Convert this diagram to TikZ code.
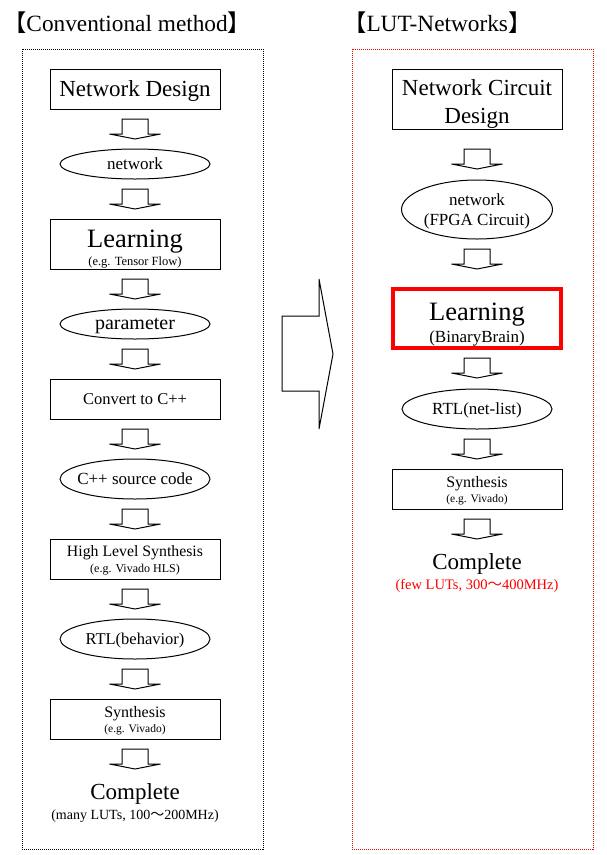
\documentclass[tikz,border=0pt]{standalone}
\usepackage{fontspec}
\setmainfont{Liberation Serif}
\newfontfamily\cjk{Noto Sans CJK JP}
\usepackage{tikz}
\usetikzlibrary{positioning}
\usetikzlibrary{shapes.geometric}

\tikzset{
  box/.style={draw, line width=1pt, minimum width=170pt, minimum height=40pt,
    inner sep=0pt, outer sep=0pt, text depth=0pt, align=center},
  oval/.style={draw, ellipse, line width=1pt, minimum width=150pt, minimum height=30pt,
    inner sep=0pt, outer sep=0pt, text depth=0pt, align=center},
  panel/.style={draw, line width=1pt, dash pattern=on 1pt off 1pt,
    minimum width=241pt, minimum height=800pt, inner sep=0pt},
  plain/.style={inner sep=0pt, outer sep=0pt, text depth=0pt, align=center},
  flow/.pic={\draw[line width=1pt, fill=white] (-13,0) -- (13,0) -- (13,15) -- (25.5,15)
    -- (0,20) -- (-25.5,15) -- (-13,15) -- cycle;}
}

\begin{document}
\begin{tikzpicture}[x=1pt, y=-1pt, node distance=40pt]
  \useasboundingbox (0,0) rectangle (607,855);

  \node [inner sep=0pt, anchor=base west, font=\fontsize{23.3}{28}\selectfont] (lhead) at (3,31)
    {{\cjk 【}Conventional method{\cjk 】}};
  \node [inner sep=0pt, anchor=base west, font=\fontsize{23.3}{28}\selectfont] (rhead) at (343,31)
    {{\cjk 【}LUT-Networks{\cjk 】}};

  \node [panel] (lpanel) at (142.5,449) {};
  \node [panel, draw=red] (rpanel) at (472.5,449) {};

  \node [box, font=\fontsize{23}{28}\selectfont] (design) at (135,89) {Network Design};
  \node [oval, below=of design, font=\fontsize{17}{20}\selectfont] (net) {network};
  \node [box, below=of net, minimum height=50pt, font=\fontsize{26.5}{18}\selectfont] (learn)
    {\rule{0pt}{24pt}Learning\\{\fontsize{12.5}{13}\selectfont (e.g. Tensor Flow)}};
  \node [oval, below=of learn, font=\fontsize{20}{22}\selectfont] (param) {parameter};
  \node [box, below=of param, font=\fontsize{16.5}{20}\selectfont] (conv) {Convert to C++};
  \node [oval, below=of conv, minimum height=40pt, inner xsep=-5pt,
    font=\fontsize{17}{20}\selectfont] (src) {C++ source code};
  \node [box, below=of src, font=\fontsize{15.8}{16}\selectfont] (hls)
    {High Level Synthesis\\{\fontsize{12}{13}\selectfont (e.g. Vivado HLS)}};
  \node [oval, below=of hls, minimum height=40pt, font=\fontsize{16.5}{20}\selectfont] (rtl)
    {RTL(behavior)};
  \node [box, below=of rtl, font=\fontsize{16}{15}\selectfont] (synth)
    {Synthesis\\{\fontsize{11.5}{12}\selectfont (e.g. Vivado)}};
  \node [plain, below=45pt of synth, font=\fontsize{23}{20}\selectfont] (done)
    {Complete\\{\fontsize{14}{15}\selectfont (many LUTs, 100{\cjk ～}200MHz)}};

  \node [box, minimum height=60pt, font=\fontsize{23}{28}\selectfont] (rdesign) at (477,99)
    {\rule{0pt}{21.5pt}Network Circuit\\Design};
  \node [oval, below=51pt of rdesign, minimum width=151pt, minimum height=59pt,
    font=\fontsize{17}{20}\selectfont] (rnet) {network\\(FPGA Circuit)};
  \node [box, below=50pt of rnet, draw=red, line width=3.5pt, minimum width=168pt,
    minimum height=59pt, font=\fontsize{26.5}{22}\selectfont] (rlearn)
    {\rule{0pt}{26pt}Learning\\{\fontsize{17}{18}\selectfont (BinaryBrain)}};
  \node [oval, below=41pt of rlearn, minimum height=40pt, font=\fontsize{17}{20}\selectfont] (rrtl)
    {RTL(net-list)};
  \node [box, below=of rrtl, font=\fontsize{16}{15}\selectfont] (rsynth)
    {Synthesis\\{\fontsize{11.5}{12}\selectfont (e.g. Vivado)}};
  \node [plain, below=45pt of rsynth, font=\fontsize{23}{20}\selectfont] (rdone)
    {Complete\\{\fontsize{14.5}{15}\selectfont\color{red} (few LUTs, 300{\cjk ～}400MHz)}};

  \foreach \n in {design,net,learn,param,conv,src,hls,rtl,synth}
    \path (\n.south) ++(0,10) pic {flow};
  \foreach \n/\d in {rdesign/20,rnet/10,rlearn/10,rrtl/10,rsynth/10}
    \path (\n.south) ++(0,\d) pic {flow};

  \draw [line width=1pt] (282,316) -- (319,316) -- (319,279) -- (333,354)
    -- (319,429) -- (319,391) -- (282,391) -- cycle;
\end{tikzpicture}
\end{document}
